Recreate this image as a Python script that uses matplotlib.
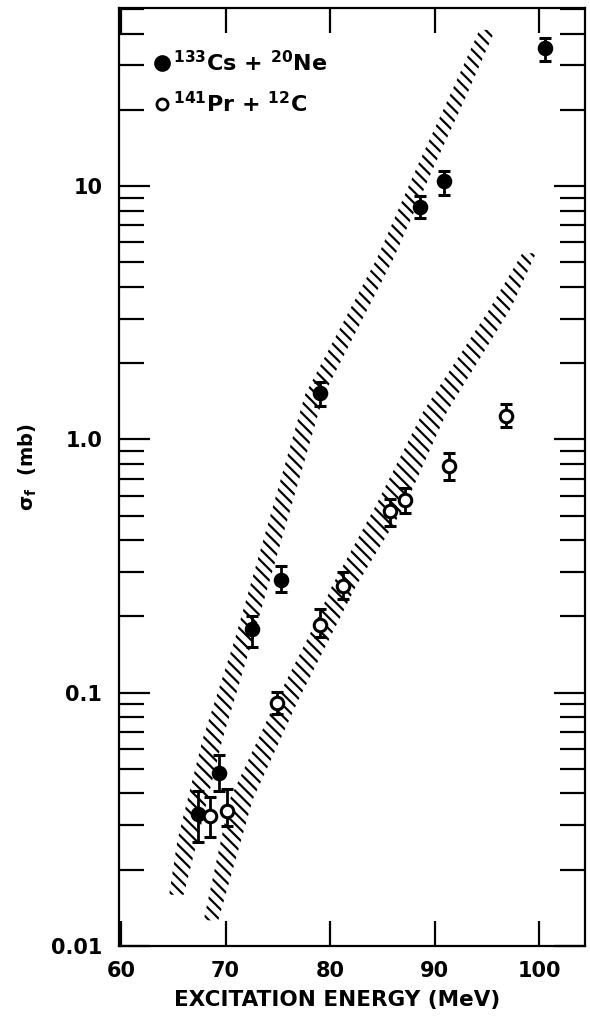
import numpy as np
import matplotlib
matplotlib.use("Agg")
from matplotlib import pyplot as plt
from matplotlib.lines import Line2D
from matplotlib.ticker import FixedLocator, FixedFormatter, LogLocator, NullFormatter

plt.rcParams['font.family'] = ['DejaVu Sans']
plt.rcParams['font.weight'] = 'bold'
plt.rcParams['axes.labelweight'] = 'bold'
plt.rcParams['mathtext.default'] = 'bf'
plt.rcParams['hatch.linewidth'] = 1.6

# 133Cs + 20Ne (filled)
cs_x = [67.4, 69.4, 72.55, 75.35, 79.0, 88.6, 90.9, 100.55]
cs_y = [0.033, 0.048, 0.178, 0.279, 1.52, 8.3, 10.5, 35.2]
cs_lo = [0.0258, 0.0407, 0.151, 0.249, 1.35, 7.48, 9.25, 31.3]
cs_hi = [0.0407, 0.0569, 0.200, 0.317, 1.68, 9.14, 11.5, 38.6]

# 141Pr + 12C (open)
pr_x = [68.5, 70.15, 74.88, 79.08, 81.25, 85.78, 87.18, 91.36, 96.8]
pr_y = [0.0324, 0.034, 0.0912, 0.1845, 0.264, 0.519, 0.578, 0.782, 1.238]
pr_lo = [0.027, 0.0296, 0.082, 0.165, 0.234, 0.456, 0.511, 0.692, 1.12]
pr_hi = [0.0388, 0.0416, 0.1004, 0.2135, 0.298, 0.582, 0.644, 0.885, 1.385]

# hatched calculation bands (sigma, left edge, right edge in MeV)
upper_s = [0.0159, 0.0262, 0.0653, 0.163, 1.5, 5.2, 12.1, 22.5, 41.4]
upper_xl = [64.6, 65.4, 67.8, 70.9, 77.6, 84.5, 88.4, 91.4, 94.3]
upper_xr = [66.0, 67.3, 69.7, 72.6, 79.4, 86.1, 90.0, 93.0, 95.8]

lower_s = [0.0126, 0.0378, 0.094, 0.1845, 0.264, 0.55, 1.285, 3.29, 5.43]
lower_xl = [67.9, 70.4, 74.9, 78.5, 80.2, 84.4, 88.9, 95.3, 98.4]
lower_xr = [69.3, 72.6, 77.0, 80.6, 82.5, 87.2, 91.2, 97.3, 99.7]

fig = plt.figure(figsize=(5.9, 10.19), dpi=100)
ax = fig.add_axes([0.2017, 0.0719, 0.7898, 0.9202])
ax.set_yscale('log')

for s, xl, xr in [(upper_s, upper_xl, upper_xr), (lower_s, lower_xl, lower_xr)]:
    ax.fill_betweenx(s, xl, xr, facecolor='none', edgecolor='black',
                     linewidth=0, hatch='\\\\\\')

def bars(x, y, lo, hi, face):
    yerr = [np.array(y) - np.array(lo), np.array(hi) - np.array(y)]
    ax.errorbar(x, y, yerr=yerr, fmt='o', ms=9, mfc=face, mec='black', mew=2.2,
                ecolor='black', elinewidth=2, capsize=4.5, capthick=2.2, zorder=3)

bars(cs_x, cs_y, cs_lo, cs_hi, 'black')
bars(pr_x, pr_y, pr_lo, pr_hi, 'white')

ax.set_xlim(59.8, 104.4)
ax.set_ylim(0.01, 50.5)

ax.xaxis.set_major_locator(FixedLocator([60, 70, 80, 90, 100]))
ax.yaxis.set_major_locator(FixedLocator([0.01, 0.1, 1.0, 10]))
ax.yaxis.set_major_formatter(FixedFormatter(['0.01', '0.1', '1.0', '10']))
ax.yaxis.set_minor_locator(LogLocator(base=10, subs=np.arange(2, 10)))
ax.yaxis.set_minor_formatter(NullFormatter())

ax.tick_params(axis='both', which='both', direction='in', top=True, right=True, width=1.6)
ax.tick_params(axis='x', which='major', length=18, pad=11, labelsize=15)
ax.tick_params(axis='y', which='major', length=22, pad=12, labelsize=15)
ax.tick_params(axis='y', which='minor', length=18)
for sp in ax.spines.values():
    sp.set_linewidth(1.6)

ax.set_xlabel('EXCITATION ENERGY (MeV)', fontsize=15.5, fontweight='bold')
ax.xaxis.set_label_coords(0.468, -0.047)
ax.set_ylabel(r'$\sigma_f$  (mb)', fontsize=14, fontweight='bold')
ax.yaxis.set_label_coords(-0.172, 0.51)

handles = [Line2D([], [], ls='none', marker='o', ms=10, mfc='black', mec='black', mew=2),
           Line2D([], [], ls='none', marker='o', ms=8, mfc='white', mec='black', mew=2)]
labels = [r'$^{133}$Cs + $^{20}$Ne', r'$^{141}$Pr + $^{12}$C']
ax.legend(handles, labels, loc='upper left', bbox_to_anchor=(0.05, 0.965), frameon=False,
          prop={'size': 16, 'weight': 'bold'}, handletextpad=0.0, handlelength=1.0,
          labelspacing=0.7, borderaxespad=0)

fig.savefig('out.png', dpi=100)
